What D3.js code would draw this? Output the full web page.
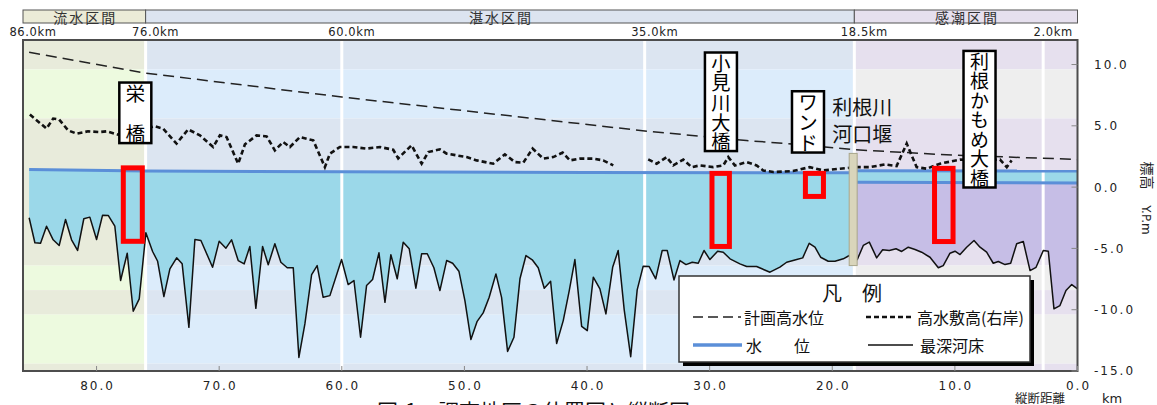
<!DOCTYPE html>
<html>
<head>
<meta charset="utf-8">
<title>利根川 縦断図</title>
<script src="https://d3js.org/d3.v7.min.js"></script>
<style>
  body { margin: 0; background: #fff; }
  text { font-family: "DejaVu Sans", sans-serif; }
  .jp { font-family: "Noto Sans CJK JP", sans-serif; }
  .vert { writing-mode: vertical-rl; }
</style>
</head>
<body>
<svg id="chart" width="1157" height="405"></svg>
<script>
// ---- data (km from river mouth, elevation Y.P.m) ----
var zoneNames = ["流水区間", "湛水区間", "感潮区間"];
var zoneEdges = [86, 76, 18.2, 0];
var bandEdges = [12, 9.6, 5.6, -6.4, -8.4, -10.4, -14.4, -15];
var gridKm = [60, 35.3, 2.8];
var topKm = [86, 76, 60, 35.3, 18.2, 2.8];
var topLabels = ["86.0km", "76.0km", "60.0km", "35.0km", "18.5km", "2.0km"];
var xTicks = [80, 70, 60, 50, 40, 30, 20, 10, 0];
var yTicks = [10, 5, 0, -5, -10, -15];

// 計画高水位
var planHWL = [[85.5, 11.0], [76, 9.3], [60, 7.35], [35, 4.55], [27, 3.8], [23, 3.5], [18.2, 3.05], [10, 2.6], [0, 2.26]];

// 高水敷高(右岸)  (null = gap)
var bench = [[85.44, 5.92], [84.08, 4.77], [83.54, 5.59], [83.05, 5.51], [82.32, 4.63], [81.63, 4.36], [80.69, 4.55],
  [79.73, 4.49], [79.18, 4.55], [78.24, 4.28], [77.0, 4.5], [75.24, 4.96], [74.57, 4.77], [73.48, 3.55], [72.53, 4.71],
  [71.57, 4.22], [70.49, 3.27], [69.94, 4.22], [69.40, 4.08], [68.45, 1.91], [67.90, 3.49], [66.95, 4.22], [66.13, 4.14],
  [65.46, 3.00], [64.78, 3.68], [64.23, 3.27], [63.42, 4.08], [62.33, 3.82], [61.38, 1.63], [60.97, 2.73], [60.16, 3.27],
  [59.07, 3.27], [57.98, 3.14], [56.89, 3.27], [55.81, 3.05], [55.40, 2.35], [54.31, 3.41], [53.49, 1.91], [52.95, 2.86],
  [52.00, 3.08], [51.45, 2.73], [49.82, 2.45], [49.01, 2.18], [47.65, 1.91], [46.70, 2.67], [45.88, 2.04], [45.20, 1.99],
  [44.44, 3.14], [43.57, 2.32], [42.76, 2.45], [41.99, 2.81], [41.39, 2.18], [40.58, 2.32], [39.49, 2.32], [38.68, 2.18],
  [37.86, 1.77], [37.0, null], [35.01, 2.26], [34.32, 1.91], [33.51, 2.45], [32.97, 1.77], [32.15, 2.24], [31.47, 1.63],
  [30.79, 1.77], [29.71, 1.63], [28.89, 1.77], [28.48, 2.45], [27.94, 1.77], [26.98, 2.04], [26.17, 1.77], [25.63, 1.36],
  [24.81, 1.23], [23.21, 1.31], [21.84, 1.63], [20.73, 1.36], [19.37, 1.50], [18.01, 1.63], [16.92, 1.63], [15.70, 1.85],
  [14.75, 1.72], [13.93, 3.55], [13.12, 1.63], [12.30, 1.50], [11.22, 1.91], [9.58, 2.24], [7.9, 2.2], [6.32, 2.24],
  [5.77, 1.63], [5.37, 2.18]];

// 水位
var waterUp = [[85.5, 1.43], [76, 1.32], [60, 1.25], [40, 1.2], [18.6, 1.17]];
var tideHigh = [[18.0, 1.33], [0, 1.31]];
var tideLow = [[18.0, 0.4], [0, 0.33]];

// 最深河床
var bed = [[85.50, -2.50], [85.03, -4.54], [84.57, -4.58], [84.08, -3.19], [83.54, -4.30], [83.05, -4.76], [82.53, -2.64],
  [82.04, -4.30], [81.55, -5.17], [81.04, -2.58], [80.55, -2.45], [80.00, -4.27], [79.51, -2.29], [79.05, -2.31],
  [78.51, -3.19], [78.04, -7.62], [77.50, -5.39], [77.01, -10.13], [76.52, -9.12], [75.98, -3.73], [75.43, -5.25],
  [75.02, -6.05], [74.51, -8.93], [74.02, -6.67], [73.47, -5.77], [73.02, -6.26], [72.47, -11.44], [71.98, -4.27],
  [71.49, -4.35], [70.54, -6.54], [70.00, -4.41], [69.45, -4.98], [68.99, -4.30], [68.45, -5.99], [67.96, -6.26],
  [67.50, -4.84], [67.01, -9.89], [66.46, -4.84], [66.00, -6.34], [65.46, -4.62], [64.97, -6.13], [64.45, -6.58],
  [63.96, -6.58], [63.50, -13.89], [63.01, -11.16], [62.46, -7.13], [62.01, -6.40], [61.52, -8.99], [60.97, -8.85],
  [60.02, -5.91], [59.48, -7.95], [59.01, -7.62], [58.47, -12.25], [57.98, -8.03], [57.49, -7.54], [56.97, -5.36],
  [56.48, -9.40], [56.00, -5.52], [55.48, -7.48], [54.99, -4.49], [54.50, -5.03], [53.96, -8.25], [53.49, -5.44],
  [53.03, -5.44], [52.49, -6.58], [52.00, -8.44], [51.45, -5.99], [50.96, -6.21], [50.45, -6.86], [49.96, -9.26],
  [49.47, -12.44], [48.96, -10.95], [48.47, -10.26], [47.98, -8.99], [47.43, -7.08], [46.97, -8.99], [46.48, -13.40],
  [45.96, -12.25], [45.47, -7.48], [44.98, -5.58], [44.47, -5.93], [43.98, -6.58], [43.49, -8.25], [42.97, -7.68],
  [42.48, -12.75], [41.94, -10.89], [41.45, -8.44], [40.99, -5.91], [40.44, -11.36], [39.98, -11.71], [39.49, -7.35],
  [38.95, -8.30], [38.46, -10.34], [37.91, -6.54], [37.46, -5.17], [36.97, -9.99], [36.44, -13.83], [35.91, -8.38],
  [35.42, -6.45], [34.93, -6.48], [34.40, -7.48], [33.87, -5.17], [33.46, -5.17], [32.91, -7.57], [32.42, -5.99],
  [31.93, -6.32], [31.42, -6.13], [30.93, -6.21], [30.46, -5.17], [29.98, -5.91], [29.35, -5.23], [28.89, -5.31],
  [28.34, -5.85], [27.53, -6.26], [26.98, -6.48], [26.17, -6.48], [25.08, -6.94], [24.27, -6.52], [23.72, -6.13],
  [22.90, -5.91], [22.41, -5.77], [21.88, -4.58], [21.41, -4.90], [20.95, -5.72], [20.33, -6.05], [19.78, -6.05],
  [19.10, -5.85], [18.61, -5.58], [17.96, -5.91], [17.47, -4.76], [16.98, -4.49], [16.38, -5.77], [15.89, -5.11],
  [15.35, -5.17], [14.80, -5.03], [14.34, -5.25], [13.80, -4.90], [13.25, -5.09], [12.71, -5.31], [12.03, -5.72],
  [11.35, -6.58], [10.95, -6.40], [10.40, -5.39], [9.99, -5.23], [9.58, -5.50], [9.04, -4.90], [8.44, -4.35],
  [7.95, -4.90], [7.41, -5.31], [6.87, -6.21], [6.46, -6.07], [5.91, -6.32], [5.45, -6.21], [4.96, -4.62],
  [4.42, -4.44], [3.87, -6.81], [3.38, -6.54], [2.79, -5.17], [2.38, -5.23], [1.92, -9.93], [1.43, -9.66],
  [0.94, -8.44], [0.47, -7.95], [0.00, -8.30]];

// 利根川河口堰
var weirKm = [18.62, 17.97];
var weirElev = [2.75, -6.4];

// red study boxes: [km from, km to, elev top, elev bottom]
var studyBoxes = [[77.82, 76.27, 1.57, -4.42], [29.81, 28.39, 1.12, -4.84], [22.19, 20.72, 1.12, -0.76], [11.66, 10.15, 1.53, -4.44]];

// place name labels (vertical): [text, km, elev top, elev bottom]
var placeLabels = [["栄　橋", 76.84, 8.53, 3.59], ["小見川大橋", 29.08, 10.98, 2.94], ["ワンド", 21.98, 7.82, 2.82], ["利根かもめ大橋", 7.99, 11.11, -0.03]];
var weirLabel = ["利根川", "河口堰"];

// ---- drawing ----
var svg = d3.select("#chart");
var x = d3.scaleLinear().domain([86, 0]).range([23, 1077.5]);
var y = d3.scaleLinear().domain([-15, 12]).range([371, 40]);
var line = d3.line().x(d => x(d[0])).y(d => y(d[1]));

var zoneDark = ["#e8ebdb", "#dce5f1", "#e6e0ee"];
var zoneLight = ["#edfadf", "#dcecfb", "#eeeeee"];
var zoneHead = ["#ebebd7", "#dce4f0", "#e6e0ee"];

// background bands per zone
var bg = svg.append("g");
zoneNames.forEach(function(name, i) {
  var x0 = x(zoneEdges[i]), x1 = x(zoneEdges[i + 1]);
  d3.pairs(bandEdges).forEach(function(p, j) {
    bg.append("rect")
      .attr("x", x0).attr("width", x1 - x0)
      .attr("y", y(p[0])).attr("height", y(p[1]) - y(p[0]))
      .attr("fill", j % 2 ? zoneLight[i] : zoneDark[i]);
  });
});

// zone boundary lines (under the water)
svg.append("g").selectAll("line")
  .data(zoneEdges.slice(1, 3))
  .enter().append("line")
  .attr("x1", d => x(d)).attr("x2", d => x(d))
  .attr("y1", y(12)).attr("y2", y(-15))
  .attr("stroke", "#fff").attr("stroke-width", 3);

// water fills
var upBed = bed.filter(d => d[0] >= 18.5);
var lowBed = bed.filter(d => d[0] <= 18.2);
svg.append("path").attr("d", line(waterUp.concat(upBed.slice().reverse())) + "Z").attr("fill", "#9bd8e9");
svg.append("path").attr("d", line(tideHigh.concat(tideLow.slice().reverse())) + "Z").attr("fill", "#9bd8e9");
svg.append("path").attr("d", line(tideLow.concat(lowBed.slice().reverse())) + "Z").attr("fill", "#c6bee6");

// interior white lines
svg.append("g").selectAll("line")
  .data(gridKm)
  .enter().append("line")
  .attr("x1", d => x(d)).attr("x2", d => x(d))
  .attr("y1", y(12)).attr("y2", y(-15))
  .attr("stroke", "#fff").attr("stroke-width", 3);

// 最深河床
svg.append("path").datum(bed).attr("d", line)
  .attr("fill", "none").attr("stroke", "#111").attr("stroke-width", 1.5).attr("stroke-linejoin", "round");

// 水位
[waterUp, tideHigh, tideLow].forEach(function(w) {
  svg.append("path").datum(w).attr("d", line)
    .attr("fill", "none").attr("stroke", "#5b8fd8").attr("stroke-width", 3);
});

// 計画高水位
svg.append("path").datum(planHWL).attr("d", line)
  .attr("fill", "none").attr("stroke", "#222").attr("stroke-width", 1.5).attr("stroke-dasharray", "11,6");

// 高水敷高
svg.append("path").datum(bench)
  .attr("d", d3.line().defined(d => d[1] !== null).x(d => x(d[0])).y(d => y(d[1])))
  .attr("fill", "none").attr("stroke", "#111").attr("stroke-width", 2.6).attr("stroke-dasharray", "5,3");

// weir
svg.append("rect")
  .attr("x", x(weirKm[0])).attr("width", x(weirKm[1]) - x(weirKm[0]))
  .attr("y", y(weirElev[0])).attr("height", y(weirElev[1]) - y(weirElev[0]))
  .attr("fill", "#d9d5bb").attr("stroke", "#a8a58a").attr("stroke-width", 1);

// red study boxes
svg.append("g").selectAll("rect")
  .data(studyBoxes)
  .enter().append("rect")
  .attr("x", d => x(d[0])).attr("width", d => x(d[1]) - x(d[0]))
  .attr("y", d => y(d[2])).attr("height", d => y(d[3]) - y(d[2]))
  .attr("fill", "none").attr("stroke", "#ff0000").attr("stroke-width", 5);

// vertical place labels (one text each, vertical writing)
placeLabels.forEach(function(p) {
  var cx = x(p[1]), top = y(p[2]), bot = y(p[3]);
  var n = Array.from(p[0]).length;
  var step = (bot - top) / n;
  var fs = Math.min(20, step - 0.5);
  svg.append("rect")
    .attr("x", cx - 16).attr("width", 32)
    .attr("y", top).attr("height", bot - top)
    .attr("fill", "#fff").attr("stroke", "#000").attr("stroke-width", 2.5);
  svg.append("text").attr("class", "jp vert")
    .attr("x", cx).attr("y", top + (step - fs) / 2 + 1)
    .attr("font-size", fs).attr("letter-spacing", step - fs)
    .attr("fill", "#000")
    .text(p[0]);
});

svg.append("g").selectAll("text")
  .data(weirLabel)
  .enter().append("text").attr("class", "jp")
  .attr("x", x(17.55)).attr("y", (d, i) => y(6.54 - i * 2.18))
  .attr("text-anchor", "middle").attr("dominant-baseline", "central")
  .attr("font-size", 20).attr("fill", "#111")
  .text(d => d);

// frame
svg.append("rect")
  .attr("x", x(86)).attr("y", y(12))
  .attr("width", x(0) - x(86)).attr("height", y(-15) - y(12))
  .attr("fill", "none").attr("stroke", "#4d4d4d").attr("stroke-width", 2);

// x ticks
svg.append("g").selectAll("line")
  .data(xTicks).enter().append("line")
  .attr("x1", d => x(d)).attr("x2", d => x(d))
  .attr("y1", y(-15)).attr("y2", y(-15) - 5)
  .attr("stroke", "#888").attr("stroke-width", 1);
svg.append("g").selectAll("text")
  .data(xTicks).enter().append("text")
  .attr("x", d => x(d) + 1).attr("y", 390)
  .attr("text-anchor", "middle").attr("font-size", 12)
  .attr("letter-spacing", 2).attr("fill", "#222")
  .text(d => d.toFixed(1));

// y ticks (right side)
svg.append("g").selectAll("line")
  .data(yTicks).enter().append("line")
  .attr("x1", x(0)).attr("x2", x(0) - 6)
  .attr("y1", d => y(d)).attr("y2", d => y(d))
  .attr("stroke", "#888").attr("stroke-width", 1);
svg.append("g").selectAll("text")
  .data(yTicks).enter().append("text")
  .attr("x", 1094).attr("y", d => y(d) + 4.4)
  .attr("text-anchor", "start").attr("font-size", 12)
  .attr("letter-spacing", 2).attr("fill", "#222")
  .text(d => d.toFixed(1));

svg.append("text").attr("class", "jp")
  .attr("transform", "translate(1142,175.5) rotate(90)")
  .attr("text-anchor", "middle").attr("font-size", 14).attr("fill", "#222")
  .text("標高");
svg.append("text")
  .attr("transform", "translate(1142,220) rotate(90)")
  .attr("text-anchor", "middle").attr("font-size", 12).attr("fill", "#222")
  .text("Y.P.m");

svg.append("text").attr("class", "jp")
  .attr("x", 1015).attr("y", 397.5).attr("dominant-baseline", "central")
  .attr("font-size", 12.5).attr("fill", "#222").text("縦断距離");
svg.append("text")
  .attr("x", 1102).attr("y", 403)
  .attr("font-size", 13).attr("fill", "#222").text("km");

// caption (cut off at the bottom, as in the original figure)
svg.append("text").attr("class", "jp")
  .attr("x", 377).attr("y", 419)
  .attr("font-size", 21).attr("fill", "#111")
  .text("図-1　調査地区の位置図と縦断図");

// zone header
zoneNames.forEach(function(name, i) {
  var x0 = x(zoneEdges[i]), x1 = x(zoneEdges[i + 1]);
  svg.append("rect")
    .attr("x", x0).attr("y", 10).attr("width", x1 - x0).attr("height", 13)
    .attr("fill", zoneHead[i]).attr("stroke", "#555").attr("stroke-width", 1);
  svg.append("text").attr("class", "jp")
    .attr("x", (x0 + x1) / 2 + 1).attr("y", 16.7)
    .attr("text-anchor", "middle").attr("dominant-baseline", "central")
    .attr("font-size", 14).attr("letter-spacing", 2).attr("fill", "#333")
    .text(name);
});

// km labels above plot
svg.append("g").selectAll("text")
  .data(topKm).enter().append("text")
  .attr("x", d => x(d) + 10).attr("y", 36)
  .attr("text-anchor", "middle").attr("font-size", 11.5)
  .attr("letter-spacing", 0.6).attr("fill", "#222")
  .text((d, i) => topLabels[i]);

// legend
var lg = svg.append("g");
lg.append("rect").attr("x", 683).attr("y", 280).attr("width", 351).attr("height", 86).attr("fill", "#000");
lg.append("rect").attr("x", 679).attr("y", 276).attr("width", 351).attr("height", 86)
  .attr("fill", "#fff").attr("stroke", "#333").attr("stroke-width", 1.5);
lg.append("text").attr("class", "jp")
  .attr("x", 852).attr("y", 292).attr("text-anchor", "middle").attr("dominant-baseline", "central")
  .attr("font-size", 20).attr("fill", "#111").text("凡　例");

var legendItems = [
  { x1: 693, x2: 741, y: 317, tx: 744, label: "計画高水位", stroke: "#222", w: 1.5, dash: "10,5" },
  { x1: 866, x2: 912, y: 317, tx: 917, label: "高水敷高(右岸)", stroke: "#111", w: 2.5, dash: "5,3" },
  { x1: 693, x2: 742, y: 345, tx: 746, label: "水　　位", stroke: "#5b8fd8", w: 3.5, dash: null },
  { x1: 868, x2: 913, y: 345, tx: 920, label: "最深河床", stroke: "#111", w: 1.5, dash: null }
];
legendItems.forEach(function(d) {
  lg.append("line").attr("x1", d.x1).attr("x2", d.x2).attr("y1", d.y).attr("y2", d.y)
    .attr("stroke", d.stroke).attr("stroke-width", d.w).attr("stroke-dasharray", d.dash);
  lg.append("text").attr("class", "jp")
    .attr("x", d.tx).attr("y", d.y).attr("dominant-baseline", "central")
    .attr("font-size", 16).attr("fill", "#111").text(d.label);
});
</script>
</body>
</html>
